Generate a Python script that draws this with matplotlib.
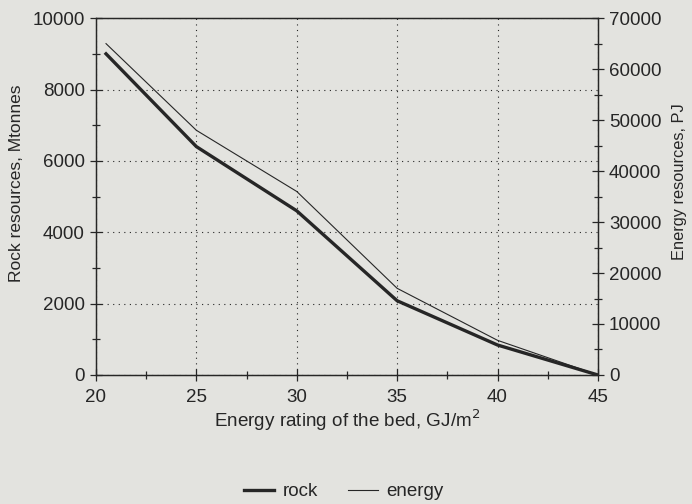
import matplotlib
matplotlib.use("Agg")
import matplotlib.pyplot as plt
from matplotlib.lines import Line2D
from matplotlib.ticker import MultipleLocator

plt.rcParams['font.family'] = ['Liberation Sans', 'DejaVu Sans']

# Data
energy_rating = [20.5, 25, 30, 35, 40, 45]
rock = [9000, 6400, 4600, 2080, 840, 0]
energy = [65000, 48000, 36000, 17000, 6800, 0]

x_ticks = [20, 25, 30, 35, 40, 45]
left_ticks = [0, 2000, 4000, 6000, 8000, 10000]
right_ticks = [0, 10000, 20000, 30000, 40000, 50000, 60000, 70000]

bg = '#e3e3df'
ink = '#262626'

fig = plt.figure(figsize=(6.92, 5.04), dpi=100, facecolor=bg)
ax = fig.add_axes([0.1387, 0.256, 0.7253, 0.708])
ax.set_facecolor(bg)
ax2 = ax.twinx()

ax.plot(energy_rating, rock, color=ink, lw=2.4, solid_joinstyle='miter', zorder=3)
ax2.plot(energy_rating, energy, color=ink, lw=0.8, zorder=3)

ax.set_xlim(20, 45)
ax.set_ylim(0, 10000)
ax2.set_ylim(0, 70000)

ax.set_xticks(x_ticks)
ax.set_yticks(left_ticks)
ax2.set_yticks(right_ticks)
ax.xaxis.set_minor_locator(MultipleLocator(2.5))
ax.yaxis.set_minor_locator(MultipleLocator(1000))
ax2.yaxis.set_minor_locator(MultipleLocator(5000))

ax.grid(True, which='major', linestyle=(0, (1, 4)), color=ink, lw=0.8)

for a in (ax, ax2):
    for s in a.spines.values():
        s.set_color(ink)
        s.set_linewidth(0.9)
ax.tick_params(axis='both', which='major', direction='inout', length=8, width=0.9,
               colors=ink, labelsize=13.5, pad=4)
ax.tick_params(axis='x', which='major', pad=6)
ax.tick_params(axis='both', which='minor', direction='inout', length=6, width=0.9, colors=ink)
ax.tick_params(axis='x', which='both', top=False)
ax2.tick_params(axis='y', which='major', direction='inout', length=8, width=0.9,
                colors=ink, labelsize=13.5, pad=4)
ax2.tick_params(axis='y', which='minor', direction='inout', length=6, width=0.9, colors=ink)

ax.set_xlabel('Energy rating of the bed, GJ/m$^2$', fontsize=13.6, color=ink, labelpad=1)
ax.set_ylabel('Rock resources, Mtonnes', fontsize=12.5, color=ink)
ax2.set_ylabel('Energy resources, PJ', fontsize=11.8, color=ink)
# label positions (pixels -> axes fraction)
ax_w_px, ax_h_px = 0.7253 * 692, 0.708 * 504
ax_x0_px, ax_y0_px = 0.1387 * 692, 504 - 0.256 * 504
ax.yaxis.set_label_coords((24 - ax_x0_px) / ax_w_px, (ax_y0_px - 183) / ax_h_px)
ax2.yaxis.set_label_coords((672 - ax_x0_px) / ax_w_px, (ax_y0_px - 182) / ax_h_px)

handles = [Line2D([], [], color=ink, lw=2.4), Line2D([], [], color=ink, lw=0.8)]
fig.legend(handles, ['rock', 'energy'], loc='center', bbox_to_anchor=(0.497, 0.024),
           ncol=2, frameon=False, fontsize=13.5, handlelength=1.6, handletextpad=0.45,
           columnspacing=1.6, labelcolor=ink)

fig.savefig('out.png', dpi=100, facecolor=bg)
